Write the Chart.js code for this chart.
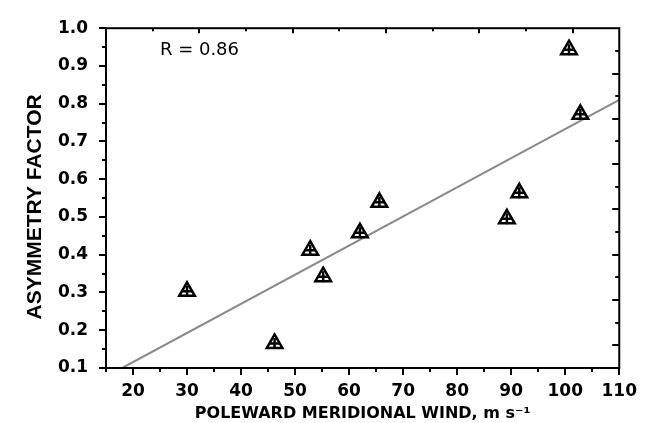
<!DOCTYPE html>
<html lang="en">
<head>
<meta charset="UTF-8">
<title>Asymmetry factor x poleward meridional wind</title>
<script src="https://cdn.jsdelivr.net/npm/chart.js"></script>
<style>
  html, body { margin: 0; padding: 0; background: #fff; }
  #wrap { width: 650px; height: 423px; }
</style>
</head>
<body>

<div id="wrap">
    <canvas id="grafico" width="650" height="423"></canvas>
</div>

<script>
// valores
const windSpeed = [30, 46.2, 52.8, 55.2, 62, 65.6, 89.2, 91.5, 100.7, 102.8];
const asymmetry = [0.303, 0.165, 0.412, 0.342, 0.458, 0.539, 0.495, 0.564, 0.943, 0.772];

// reta de regressao (extremos)
const fitX = [18, 110];
const fitY = [0.1, 0.81];

// rotulos dos eixos
const xTickValues = [20, 30, 40, 50, 60, 70, 80, 90, 100, 110];
const yTickLabels = ['0.1', '0.2', '0.3', '0.4', '0.5', '0.6', '0.7', '0.8', '0.9', '1.0'];

// anotacao
const rText = 'R = 0.86';
const rPos = [32.3, 0.942];

const pontos = windSpeed.map((x, i) => ({ x: x, y: asymmetry[i] }));
const reta = fitX.map((x, i) => ({ x: x, y: fitY[i] }));

// moldura com ticks (Origin style: fora embaixo/esquerda, dentro em cima/direita)
const moldura = {
    id: 'moldura',
    afterDatasetsDraw(chart) {
        const ctx = chart.ctx;
        const a = chart.chartArea;
        const sx = chart.scales.x, sy = chart.scales.y;
        const st = chart.scales.xTop, sr = chart.scales.yRight;

        ctx.save();
        ctx.strokeStyle = '#000';
        ctx.lineWidth = 2;
        ctx.strokeRect(a.left, a.top, a.right - a.left, a.bottom - a.top);

        ctx.beginPath();
        sx.ticks.forEach(t => {
            const px = Math.round(sx.getPixelForValue(t.value));
            const len = t.value % 10 === 0 ? 7 : 4;
            ctx.moveTo(px, a.bottom);
            ctx.lineTo(px, a.bottom + len);
        });
        sy.ticks.forEach(t => {
            const py = Math.round(sy.getPixelForValue(t.value));
            const major = Math.abs(t.value * 10 - Math.round(t.value * 10)) < 1e-6;
            ctx.moveTo(a.left - (major ? 7 : 4), py);
            ctx.lineTo(a.left, py);
        });
        st.ticks.forEach(t => {
            if (t.value <= st.min || t.value >= st.max) return;
            const px = Math.round(st.getPixelForValue(t.value));
            ctx.moveTo(px, a.top);
            ctx.lineTo(px, a.top + (t.value % 2 === 0 ? 5 : 3));
        });
        sr.ticks.forEach(t => {
            if (t.value <= sr.min || t.value >= sr.max) return;
            const py = Math.round(sr.getPixelForValue(t.value));
            ctx.moveTo(a.right, py);
            ctx.lineTo(a.right - (t.value % 2 === 1 ? 7 : 4), py);
        });
        ctx.stroke();

        ctx.fillStyle = '#000';
        ctx.font = '18px "DejaVu Sans"';
        ctx.textAlign = 'center';
        ctx.textBaseline = 'middle';
        ctx.fillText(rText, sx.getPixelForValue(rPos[0]), sy.getPixelForValue(rPos[1]));
        ctx.restore();
    }
};

const fonteTicks = { family: 'DejaVu Sans', weight: 'bold', size: 17 };

new Chart(document.getElementById('grafico').getContext('2d'), {
    type: 'scatter',
    data: {
        datasets: [
            {
                label: 'regressao',
                type: 'line',
                data: reta,
                xAxisID: 'x', yAxisID: 'y',
                borderColor: '#8a8a8a',
                borderWidth: 2,
                pointRadius: 0,
                fill: false,
                order: 3
            },
            {
                label: 'triangulos',
                data: pontos,
                xAxisID: 'x', yAxisID: 'y',
                pointStyle: 'triangle',
                pointRadius: 9,
                pointBorderColor: '#000',
                pointBackgroundColor: 'rgba(0,0,0,0)',
                pointBorderWidth: 2.5,
                order: 2
            },
            {
                label: 'cruz',
                data: pontos,
                xAxisID: 'x', yAxisID: 'y',
                pointStyle: 'cross',
                pointRadius: 5.5,
                pointBorderColor: '#000',
                pointBorderWidth: 2.5,
                order: 1
            }
        ]
    },
    options: {
        responsive: false,
        animation: false,
        layout: { padding: 0 },
        plugins: {
            legend: { display: false },
            tooltip: { enabled: false }
        },
        scales: {
            x: {
                type: 'linear',
                position: 'bottom',
                min: 15,
                max: 110,
                afterFit: s => { s.height = 55; },
                grid: { display: false, drawTicks: false },
                border: { display: false },
                ticks: {
                    stepSize: 5,
                    autoSkip: false,
                    maxRotation: 0,
                    padding: 13,
                    color: '#000',
                    font: fonteTicks,
                    callback: v => xTickValues.includes(v) ? String(v) : ''
                },
                title: {
                    display: true,
                    text: 'POLEWARD MERIDIONAL WIND, m s\u207B\u00B9',
                    color: '#000',
                    font: { family: 'DejaVu Sans', weight: 'bold', size: 16 },
                    padding: { top: 0, bottom: 0 }
                }
            },
            y: {
                type: 'linear',
                position: 'left',
                min: 0.1,
                max: 1.0,
                afterFit: s => { s.width = 106; },
                grid: { display: false, drawTicks: false },
                border: { display: false },
                ticks: {
                    stepSize: 0.05,
                    autoSkip: false,
                    padding: 18,
                    color: '#000',
                    font: fonteTicks,
                    callback: v => {
                        const k = Math.round(v * 10);
                        return Math.abs(v * 10 - k) < 1e-6 ? yTickLabels[k - 1] : '';
                    }
                },
                title: {
                    display: true,
                    text: 'ASYMMETRY FACTOR   ',
                    color: '#000',
                    font: { family: 'Liberation Sans', weight: 'bold', size: 21 },
                    padding: { top: 23, bottom: 0 }
                }
            },
            xTop: {
                type: 'linear',
                position: 'top',
                min: 0,
                max: 11,
                afterFit: s => { s.height = 21; },
                grid: { display: false, drawTicks: false },
                border: { display: false },
                ticks: { display: false, stepSize: 1 }
            },
            yRight: {
                type: 'linear',
                position: 'right',
                min: 0,
                max: 15,
                afterFit: s => { s.width = 29; },
                grid: { display: false, drawTicks: false },
                border: { display: false },
                ticks: { display: false, stepSize: 1 }
            }
        }
    },
    plugins: [moldura]
});
</script>

</body>
</html>
